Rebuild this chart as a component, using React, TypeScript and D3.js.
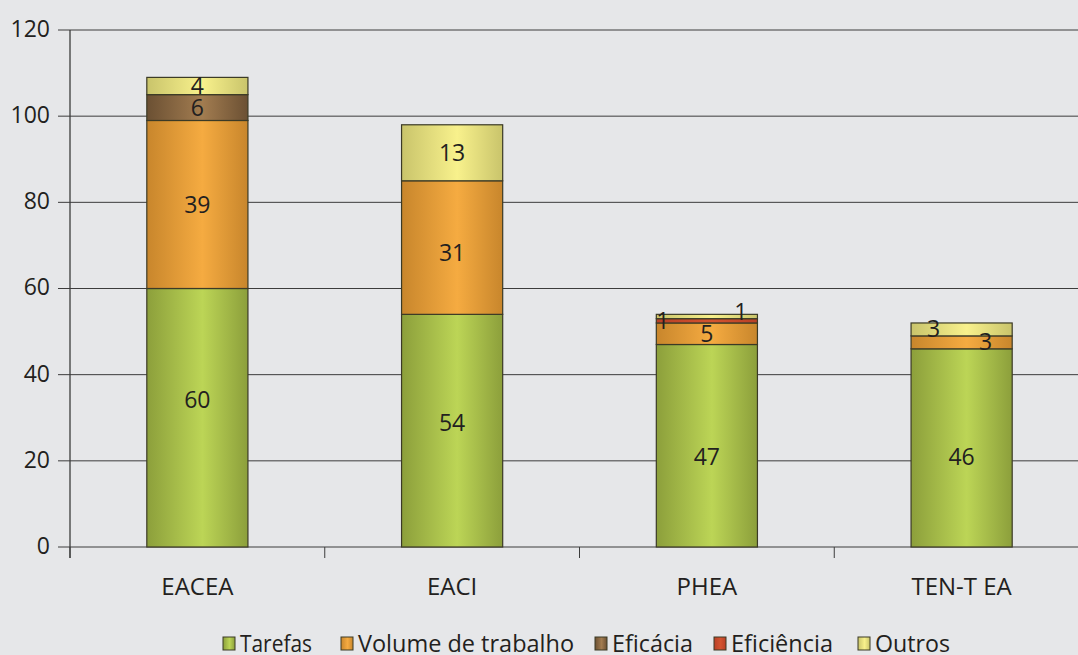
import React from 'react';
import * as d3 from 'd3';

// agencies and stacked series
const categories = ['EACEA', 'EACI', 'PHEA', 'TEN-T EA'];
const seriesNames = ['Tarefas', 'Volume de trabalho', 'Eficácia', 'Eficiência', 'Outros'];
const tarefas = [60, 54, 47, 46];
const volume = [39, 31, 5, 3];
const eficacia = [6, 0, 0, 0];
const eficiencia = [0, 0, 1, 0];
const outros = [4, 13, 1, 3];
const yTicks = [0, 20, 40, 60, 80, 100, 120];

const seriesValues = [tarefas, volume, eficacia, eficiencia, outros];

// gradient colours: [edge, centre]
const colors: [string, string][] = [
  ['#8c9f3b', '#bcd556'],
  ['#c8862c', '#f5ab41'],
  ['#6b5033', '#a27c50'],
  ['#b84026', '#d3532f'],
  ['#c9c46b', '#f8f18c'],
];

// nudges for labels, mostly thin segments that would overlap
const labelNudge: Record<string, [number, number]> = {
  'EACEA|Tarefas': [0, -18],
  'EACI|Tarefas': [0, -8],
  'PHEA|Tarefas': [0, 11],
  'TEN-T EA|Tarefas': [0, 9],
  'EACI|Volume de trabalho': [0, 5],
  'PHEA|Eficiência': [-44, 0],
  'PHEA|Outros': [34, -5],
  'TEN-T EA|Outros': [-28, 0],
  'TEN-T EA|Volume de trabalho': [24, 0],
};

const W = 1078;
const H = 655;
const margin = { top: 30, left: 70, bottom: 108 };
const plotBottom = H - margin.bottom;
const step = 254.75;

export default function App() {
  const rows = categories.map((c, i) => {
    const r: Record<string, any> = { cat: c };
    seriesNames.forEach((s, j) => (r[s] = seriesValues[j][i]));
    return r;
  });
  const stacked = d3.stack<any>().keys(seriesNames)(rows);

  const x = d3
    .scaleBand()
    .domain(categories)
    .range([margin.left, margin.left + step * categories.length])
    .paddingInner(0.603)
    .paddingOuter(0.3015);
  const y = d3.scaleLinear().domain([0, 120]).range([plotBottom, margin.top]);

  const font = "'Open Sans', 'DejaVu Sans', sans-serif";
  const legendX = [223, 341, 595, 714, 858];
  const legendW = [72, 216, 81, 102, 75];

  return (
    <svg width={W} height={H} style={{ display: 'block', position: 'absolute', left: 0, top: 0, background: '#e6e7e9' }}>
      <defs>
        {colors.map((c, i) => (
          <linearGradient key={i} id={`g${i}`} x1="0" x2="1" y1="0" y2="0">
            <stop offset="0" stopColor={c[0]} />
            <stop offset="0.55" stopColor={c[1]} />
            <stop offset="1" stopColor={c[0]} />
          </linearGradient>
        ))}
      </defs>
      <rect width={W} height={H} fill="#e6e7e9" />

      {/* gridlines + y ticks */}
      {yTicks.map((t) => (
        <g key={t}>
          <line x1={58} x2={W} y1={y(t)} y2={y(t)} stroke="#3c3c3c" strokeWidth={1} />
          <text x={50} y={y(t)} dy="0.3em" textAnchor="end" fontFamily={font} fontSize={23} fill="#231f20">
            {t}
          </text>
        </g>
      ))}
      <line x1={margin.left} x2={margin.left} y1={y(120)} y2={plotBottom + 11} stroke="#3c3c3c" strokeWidth={1.3} />
      {d3.range(categories.length + 1).map((i) => (
        <line key={i} x1={margin.left + i * step} x2={margin.left + i * step} y1={plotBottom} y2={plotBottom + 11} stroke="#3c3c3c" strokeWidth={1} />
      ))}

      {/* bars */}
      {stacked.map((layer, j) =>
        layer.map((d, i) => {
          const v = d[1] - d[0];
          if (v <= 0) return null;
          return (
            <rect
              key={`${j}-${i}`}
              x={x(categories[i])}
              y={y(d[1])}
              width={x.bandwidth()}
              height={y(d[0]) - y(d[1])}
              fill={`url(#g${j})`}
              stroke="#3b3a26"
              strokeWidth={1.2}
            />
          );
        })
      )}

      {/* value labels */}
      {stacked.map((layer, j) =>
        layer.map((d, i) => {
          const v = d[1] - d[0];
          if (v <= 0) return null;
          const nudge = labelNudge[`${categories[i]}|${seriesNames[j]}`] || [0, 0];
          return (
            <text
              key={`l${j}-${i}`}
              x={(x(categories[i]) as number) + x.bandwidth() / 2 + nudge[0]}
              y={y((d[0] + d[1]) / 2) + nudge[1]}
              dy="0.35em"
              textAnchor="middle"
              fontFamily={font}
              fontSize={23}
              fill="#231f20"
            >
              {v}
            </text>
          );
        })
      )}

      {/* category labels */}
      {categories.map((c) => (
        <text
          key={c}
          x={(x(c) as number) + x.bandwidth() / 2}
          y={587}
          dy="0.35em"
          textAnchor="middle"
          fontFamily={font}
          fontSize={24}
          fill="#231f20"
        >
          {c}
        </text>
      ))}

      {/* legend */}
      {seriesNames.map((s, j) => (
        <g key={s} transform={`translate(${legendX[j]},0)`}>
          <rect x={0} y={637} width={12} height={13} fill={`url(#g${j})`} stroke="#3b3a26" strokeWidth={1} />
          <text
            x={17}
            y={644}
            dy="0.35em"
            fontFamily={font}
            fontSize={24}
            textLength={legendW[j]}
            lengthAdjust="spacingAndGlyphs"
            fill="#231f20"
          >
            {s}
          </text>
        </g>
      ))}
    </svg>
  );
}
